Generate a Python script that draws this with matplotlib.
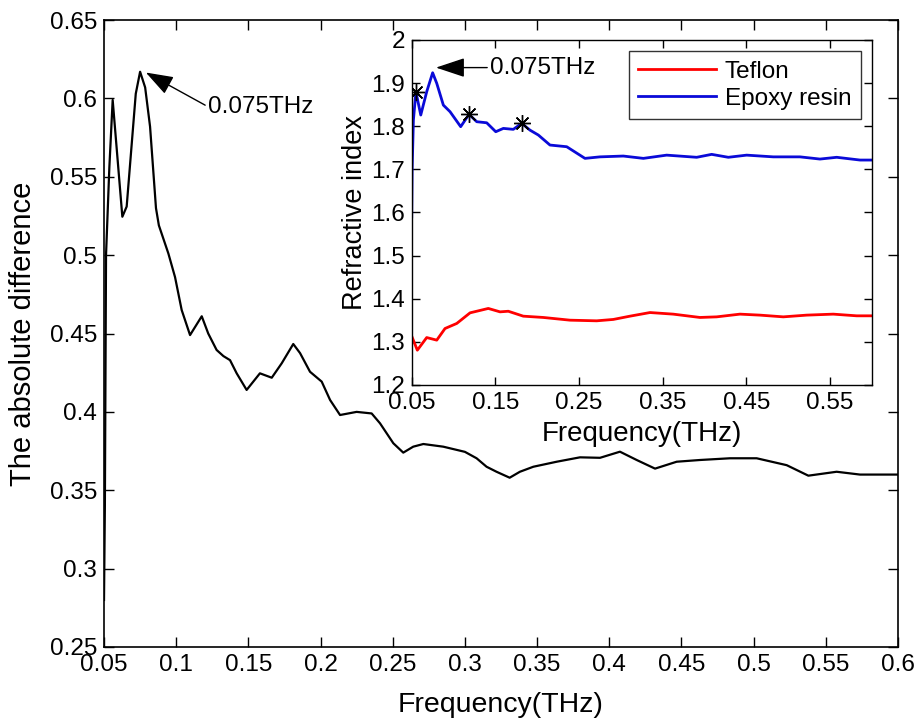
import numpy as np
import matplotlib
matplotlib.use("Agg")
import matplotlib.pyplot as plt

plt.rcParams["font.family"] = ["Liberation Sans", "DejaVu Sans"]

# Absolute difference between the two refractive index curves
diff_freq = [0.0500, 0.0506, 0.0514, 0.0537, 0.0560, 0.0627, 0.0657, 0.0720, 0.0750,
             0.0785, 0.0819, 0.0860, 0.0880, 0.0946, 0.0992, 0.1038, 0.1096, 0.1177,
             0.1222, 0.1280, 0.1327, 0.1373, 0.1419, 0.1488, 0.1580, 0.1662, 0.1731,
             0.1811, 0.1858, 0.1927, 0.2008, 0.2066, 0.2135, 0.2250, 0.2354, 0.2412,
             0.2504, 0.2573, 0.2642, 0.2712, 0.2850, 0.3000, 0.3081, 0.3150, 0.3219,
             0.3310, 0.3381, 0.3474, 0.3636, 0.3797, 0.3936, 0.4074, 0.4190, 0.4317,
             0.4467, 0.4628, 0.4836, 0.5021, 0.5229, 0.5379, 0.5575, 0.5737, 0.6000]
diff_val = [0.280, 0.340, 0.500, 0.556, 0.599, 0.5245, 0.531, 0.603, 0.617,
            0.607, 0.582, 0.530, 0.519, 0.501, 0.486, 0.465, 0.449, 0.461,
            0.450, 0.4395, 0.4356, 0.433, 0.4246, 0.414, 0.4246, 0.4218, 0.431,
            0.4433, 0.4375, 0.4256, 0.4193, 0.4076, 0.398, 0.400, 0.399, 0.3927,
            0.380, 0.374, 0.3778, 0.3795, 0.3778, 0.3745, 0.3704, 0.365, 0.3618,
            0.358, 0.3618, 0.365, 0.3682, 0.371, 0.3707, 0.3746, 0.3693, 0.3638,
            0.3682, 0.3693, 0.3704, 0.3704, 0.366, 0.3593, 0.3618, 0.360, 0.360]

# Refractive index of Teflon
teflon_freq = [0.0500, 0.0567, 0.0679, 0.0799, 0.0898, 0.1038, 0.1197, 0.1415, 0.1555,
               0.1654, 0.1833, 0.2072, 0.2391, 0.2710, 0.2909, 0.3108, 0.3347, 0.3625,
               0.3944, 0.4144, 0.4422, 0.4661, 0.4940, 0.5219, 0.5537, 0.5817, 0.6000]
teflon_n = [1.3132, 1.2807, 1.310, 1.304, 1.331, 1.3427, 1.3673, 1.3775, 1.3696,
            1.371, 1.3596, 1.3566, 1.3503, 1.3488, 1.352, 1.3596, 1.368, 1.3643,
            1.3566, 1.358, 1.3643, 1.362, 1.358, 1.362, 1.3643, 1.3604, 1.3604]

# Refractive index of epoxy resin
epoxy_freq = [0.0500, 0.0505, 0.0520, 0.0550, 0.0608, 0.0679, 0.0750, 0.0799, 0.0878,
              0.0958, 0.1085, 0.1185, 0.1277, 0.1396, 0.1504, 0.1595, 0.1714, 0.1814,
              0.1913, 0.2013, 0.2152, 0.2352, 0.2570, 0.2750, 0.3028, 0.3268, 0.3546,
              0.3905, 0.4084, 0.4283, 0.4502, 0.4820, 0.5139, 0.5378, 0.5578, 0.5857,
              0.6000]
epoxy_n = [1.590, 1.700, 1.814, 1.880, 1.826, 1.880, 1.924, 1.8995, 1.849,
           1.8337, 1.799, 1.8276, 1.8105, 1.808, 1.7873, 1.795, 1.7928, 1.8067,
           1.791, 1.7796, 1.7564, 1.7525, 1.7255, 1.729, 1.7309, 1.7255, 1.733,
           1.728, 1.7348, 1.728, 1.733, 1.729, 1.729, 1.7239, 1.728, 1.7216,
           1.7216]

# Local maxima flagged on the epoxy curve
star_freq = [0.0550, 0.1185, 0.1814]

peak_freq = 0.075

main_xticks = [0.05, 0.1, 0.15, 0.2, 0.25, 0.3, 0.35, 0.4, 0.45, 0.5, 0.55, 0.6]
main_xlabels = ["0.05", "0.1", "0.15", "0.2", "0.25", "0.3", "0.35", "0.4",
                "0.45", "0.5", "0.55", "0.6"]
main_yticks = [0.25, 0.3, 0.35, 0.4, 0.45, 0.5, 0.55, 0.6, 0.65]
main_ylabels = ["0.25", "0.3", "0.35", "0.4", "0.45", "0.5", "0.55", "0.6", "0.65"]
inset_xticks = [0.05, 0.15, 0.25, 0.35, 0.45, 0.55]
inset_xlabels = ["0.05", "0.15", "0.25", "0.35", "0.45", "0.55"]
inset_yticks = [1.2, 1.3, 1.4, 1.5, 1.6, 1.7, 1.8, 1.9, 2.0]
inset_ylabels = ["1.2", "1.3", "1.4", "1.5", "1.6", "1.7", "1.8", "1.9", "2"]

TICK_FS = 17.5

fig = plt.figure(figsize=(9.18, 7.18), dpi=100)

# ---- main axes ----
ax = fig.add_axes([0.1133, 0.0989, 0.8649, 0.8732])
ax.plot(diff_freq, diff_val, color="black", lw=1.6)
ax.set_xlim(0.05, 0.6)
ax.set_ylim(0.25, 0.65)
ax.set_xticks(main_xticks)
ax.set_xticklabels(main_xlabels)
ax.set_yticks(main_yticks)
ax.set_yticklabels(main_ylabels)
ax.tick_params(direction="in", length=7, width=1, top=True, right=True,
               labelsize=TICK_FS, pad=5)
for s in ax.spines.values():
    s.set_linewidth(1.2)
ax.set_xlabel("Frequency(THz)", fontsize=20.5)
ax.set_ylabel("The absolute difference", fontsize=21)
ax.xaxis.set_label_coords(0.5, -0.071)
ax.yaxis.set_label_coords(-0.084, 0.5)

pk_val = diff_val[diff_freq.index(peak_freq)]
ax.annotate("0.075THz", xy=(peak_freq + 0.004, pk_val - 0.0005),
            xytext=(0.122, 0.5947), textcoords="data",
            ha="left", va="center", fontsize=TICK_FS,
            arrowprops=dict(arrowstyle="-|>,head_length=0.85,head_width=0.3",
                            mutation_scale=20, color="black", lw=1,
                            shrinkA=0, shrinkB=0, relpos=(0, 0.5)))

# ---- inset axes ----
ins = fig.add_axes([0.4485, 0.4638, 0.5014, 0.4805])
ins.plot(teflon_freq, teflon_n, color="#ff0000", lw=2, label="Teflon")
ins.plot(epoxy_freq, epoxy_n, color="#0a0ad8", lw=2, label="Epoxy resin")
star_n = [epoxy_n[epoxy_freq.index(f)] for f in star_freq]
ins.plot(star_freq, star_n, ls="none", marker=(8, 2, 0), ms=12, mew=1,
         color="black")
ins.set_xlim(0.05, 0.6)
ins.set_ylim(1.2, 2.0)
ins.set_xticks(inset_xticks)
ins.set_xticklabels(inset_xlabels)
ins.set_yticks(inset_yticks)
ins.set_yticklabels(inset_ylabels)
ins.tick_params(direction="in", length=6, width=1, top=True, right=True,
                labelsize=TICK_FS, pad=5)
for s in ins.spines.values():
    s.set_linewidth(1.0)
ins.set_xlabel("Frequency(THz)", fontsize=20)
ins.set_ylabel("Refractive index", fontsize=19.5)
ins.xaxis.set_label_coords(0.5, -0.105)
ins.yaxis.set_label_coords(-0.095, 0.5)

ep_pk = epoxy_n[epoxy_freq.index(peak_freq)]
ins.annotate("0.075THz", xy=(peak_freq + 0.004, ep_pk + 0.012),
             xytext=(0.1435, ep_pk + 0.012), textcoords="data",
             ha="left", va="center", fontsize=TICK_FS,
             arrowprops=dict(arrowstyle="-|>,head_length=0.9,head_width=0.3",
                             mutation_scale=20, color="black", lw=1,
                             shrinkA=0, shrinkB=0, relpos=(0, 0.5)))

leg = ins.legend(loc="upper right", fontsize=TICK_FS, frameon=True, fancybox=False,
                 handlelength=3.2, handletextpad=0.35, borderpad=0.4,
                 labelspacing=0.2, borderaxespad=0.45)
leg.get_frame().set_edgecolor("black")
leg.get_frame().set_linewidth(1.0)

fig.savefig("out.png", dpi=100)
